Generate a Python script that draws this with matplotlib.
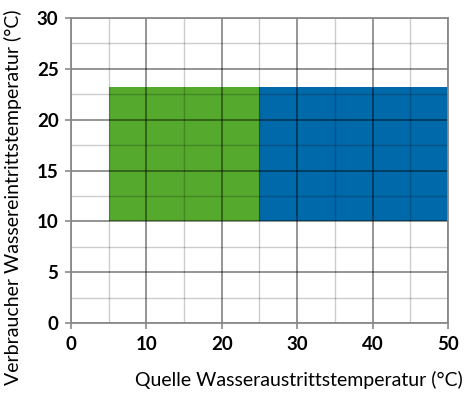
import matplotlib.pyplot as plt
from matplotlib.patches import Rectangle
from matplotlib.ticker import MultipleLocator

# Operating ranges: (x_start, x_end, y_start, y_end, colour)
x_ticks = [0, 10, 20, 30, 40, 50]
y_ticks = [0, 5, 10, 15, 20, 25, 30]
zone_x = [(5, 25), (25, 50)]
zone_y = [(10, 23.2), (10, 23.2)]
zone_colors = ['#55a92d', '#0069aa']

plt.rcParams['font.family'] = 'Lato'

fig = plt.figure(figsize=(4.65, 3.94), dpi=100)
ax = fig.add_axes([0.1527, 0.1802, 0.9634 - 0.1527, 0.9543 - 0.1802])

for (x0, x1), (y0, y1), c in zip(zone_x, zone_y, zone_colors):
    ax.add_patch(Rectangle((x0, y0), x1 - x0, y1 - y0, facecolor=c,
                           edgecolor='none', zorder=1))

ax.set_xlim(0, 50)
ax.set_ylim(0, 30)
ax.set_xticks(x_ticks)
ax.set_yticks(y_ticks)
ax.set_xticklabels([str(v) for v in x_ticks], family='Lato',
                   fontweight='bold', fontsize=13.5)
ax.set_yticklabels([str(v) for v in y_ticks], family='Lato',
                   fontweight='bold', fontsize=13.5)
ax.xaxis.set_minor_locator(MultipleLocator(5))
ax.yaxis.set_minor_locator(MultipleLocator(2.5))

ax.set_axisbelow(False)
ax.grid(which='major', color='black', alpha=0.45, linewidth=1.3, zorder=3)
ax.grid(which='minor', color='black', alpha=0.2, linewidth=1.0, zorder=3)

for s in ax.spines.values():
    s.set_color('#8a8a8a')
    s.set_linewidth(1.3)
    s.set_zorder(4)

ax.tick_params(which='major', direction='out', length=4, width=1.2,
               color='#8a8a8a', pad=5)
ax.tick_params(which='minor', length=0)

fig.text(0.995, 0.012, 'Quelle Wasseraustrittstemperatur (°C)', ha='right',
         va='bottom', fontsize=14)
fig.text(0.008, 0.5, 'Verbraucher Wassereintrittstemperatur (°C)', rotation=90,
         ha='left', va='center', fontsize=14)

fig.savefig('out.png', dpi=100)
